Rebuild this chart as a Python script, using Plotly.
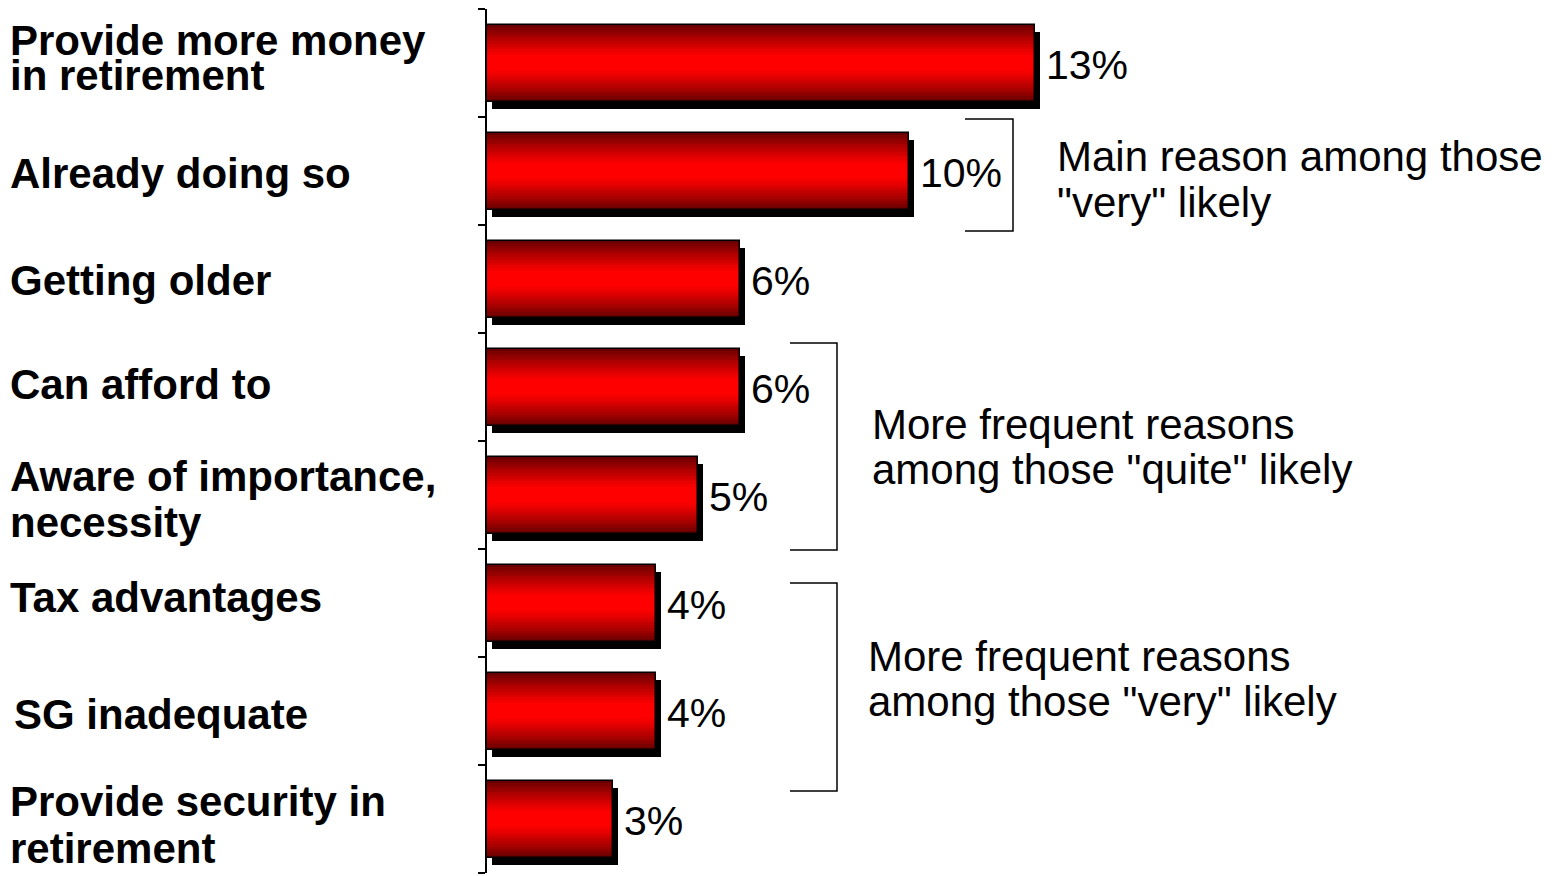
import plotly.graph_objects as go

# ---------------- data ----------------
categories = [
    "Provide more money in retirement",
    "Already doing so",
    "Getting older",
    "Can afford to",
    "Aware of importance, necessity",
    "Tax advantages",
    "SG inadequate",
    "Provide security in retirement",
]
label_lines = [
    ["Provide more money", "in retirement"],
    ["Already doing so"],
    ["Getting older"],
    ["Can afford to"],
    ["Aware of importance,", "necessity"],
    ["Tax advantages"],
    ["SG inadequate"],
    ["Provide security in", "retirement"],
]
values = [13, 10, 6, 6, 5, 4, 4, 3]
value_labels = ["13%", "10%", "6%", "6%", "5%", "4%", "4%", "3%"]

note_lines = [
    ['Main reason among those', '"very" likely'],
    ['More frequent reasons', 'among those "quite" likely'],
    ['More frequent reasons', 'among those "very" likely'],
]

# ---------------- styles / positions ----------------
PAGE_OFF = 8                      # default body margin of the html page
W, H = 1556 - PAGE_OFF, 876 - PAGE_OFF
ML_PAGE, MT_PAGE = 487, 9
ML, MT = ML_PAGE - PAGE_OFF, MT_PAGE - PAGE_OFF
MR = 0
N_CAT = len(categories)
band_px = 108
MB = H - MT - band_px * N_CAT
plot_w = W - ML - MR
px_per_unit = 42.15
x_max = plot_w / px_per_unit
BAR_W = 0.713
FONT = "Liberation Sans, Arial, sans-serif"

# vertical pixel offsets (down = positive) for each label line, and left px (page coords)
label_offsets = [[-23, 12], [2], [1], [-3], [-19, 27], [-6], [3], [-18, 29]]
label_left = [8, 8, 8, 8, 8, 8, 12, 8]

# note positions: (left px, [line y px]) in page coords
note_pos = [(1055, [156, 202]), (870, [424, 469]), (866, [656, 701])]
# brackets: (x_left px, x_right px, y_top px, y_bottom px) in page coords
brackets = [(965, 1013, 119, 231), (790, 837, 343, 550), (790, 837, 583, 791)]


def px_to_x(px):
    return (px - ML_PAGE) / px_per_unit


def px_to_y(py):
    return (py - MT_PAGE) / band_px - 0.5


idx = list(range(N_CAT))

fig = go.Figure()

# shadow
fig.add_trace(go.Bar(
    y=[i + 7 / band_px for i in idx], x=values, base=5 / px_per_unit,
    orientation="h", width=BAR_W, marker=dict(color="black", line=dict(width=0)),
    hoverinfo="skip", showlegend=False))

# gradient (overlay of narrowing bars)
N = 14
dark = (105, 0, 0)
bright = (255, 0, 0)
for k in range(N):
    t = k / (N - 1)
    tt = min(1.0, t * 1.2) ** 0.85
    r = int(dark[0] + (bright[0] - dark[0]) * tt)
    fig.add_trace(go.Bar(
        y=idx, x=values, orientation="h", width=BAR_W * (1 - k / N),
        marker=dict(color=f"rgb({r},0,0)", line=dict(width=0)),
        hoverinfo="skip", showlegend=False))

# outline
fig.add_trace(go.Bar(
    y=idx, x=values, orientation="h", width=BAR_W,
    marker=dict(color="rgba(0,0,0,0)", line=dict(color="black", width=1.5)),
    hoverinfo="skip", showlegend=False))

annotations = []
# value labels
for i, (v, lab) in enumerate(zip(values, value_labels)):
    annotations.append(dict(
        x=v, y=i, xref="x", yref="y", text=lab, showarrow=False,
        xanchor="left", yanchor="middle", xshift=9, yshift=-2,
        font=dict(family=FONT, size=41, color="black")))

# category labels
for i, lines in enumerate(label_lines):
    for line, off in zip(lines, label_offsets[i]):
        annotations.append(dict(
            x=(label_left[i] - ML_PAGE) / plot_w, y=i, xref="paper", yref="y",
            text=f"<b>{line}</b>", showarrow=False, xanchor="left", yanchor="middle",
            yshift=-off, font=dict(family=FONT, size=42, color="black")))

# notes
for lines, (lx, ys) in zip(note_lines, note_pos):
    for line, yy in zip(lines, ys):
        annotations.append(dict(
            x=px_to_x(lx), y=px_to_y(yy), xref="x", yref="y", text=line,
            showarrow=False, xanchor="left", yanchor="middle",
            font=dict(family=FONT, size=42, color="black")))

shapes = []
for (x0, x1, y0, y1) in brackets:
    shapes.append(dict(
        type="path", xref="x", yref="y",
        path=(f"M {px_to_x(x0)},{px_to_y(y0)} L {px_to_x(x1)},{px_to_y(y0)} "
              f"L {px_to_x(x1)},{px_to_y(y1)} L {px_to_x(x0)},{px_to_y(y1)}"),
        line=dict(color="black", width=1.5)))

fig.update_layout(
    width=W, height=H, barmode="overlay", bargap=0,
    margin=dict(l=ML, r=MR, t=MT, b=MB, pad=0),
    paper_bgcolor="white", plot_bgcolor="white",
    annotations=annotations, shapes=shapes,
    xaxis=dict(visible=False, range=[0, x_max], fixedrange=True),
    yaxis=dict(range=[N_CAT - 0.5, -0.5], showgrid=False, zeroline=False,
               showline=True, linecolor="black", linewidth=1.5,
               ticks="outside", ticklen=7, tickwidth=1.5, tickcolor="black",
               tickvals=[i - 0.5 for i in range(N_CAT + 1)],
               showticklabels=False, fixedrange=True),
)

fig.write_html("out.html", config={"displayModeBar": False})
